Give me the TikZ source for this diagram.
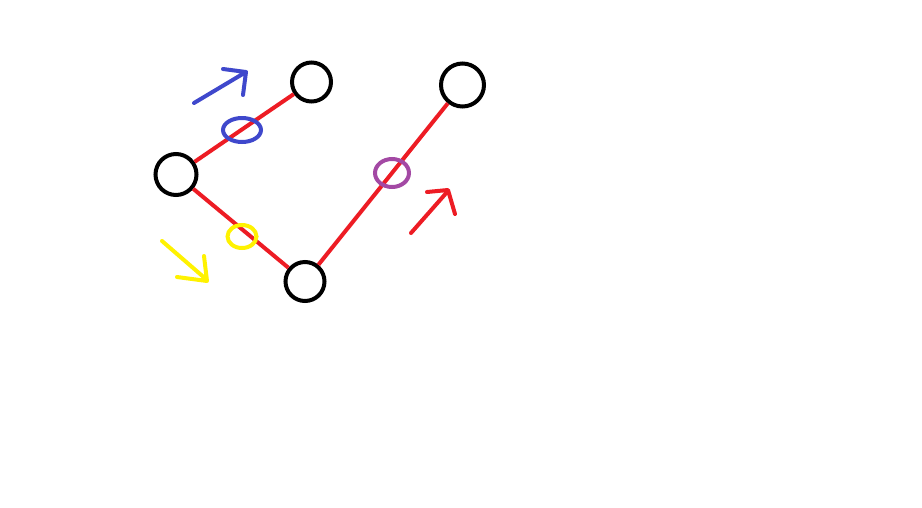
\documentclass[tikz,border=0pt]{standalone}
\usetikzlibrary{shapes.geometric}
\definecolor{pred}{HTML}{ED1C24}
\definecolor{pblue}{HTML}{3F48CC}
\definecolor{pyellow}{HTML}{FFF200}
\definecolor{ppurple}{HTML}{A349A4}
\tikzset{
  joint/.style={circle,draw=black,line width=4*0.02cm,inner sep=0pt,minimum size=0.78cm},
  link/.style={pred,line width=4*0.02cm},
  ring/.style={ellipse,line width=4*0.02cm,inner sep=0pt},
  stroke/.style={line width=4*0.02cm,line cap=round,line join=round}
}
\begin{document}
\begin{tikzpicture}[x=0.02cm,y=-0.02cm]
\useasboundingbox (0,0) rectangle (922,507);
\node[joint,minimum size=0.82cm] (j1) at (176,174.5){};
\node[joint] (j2) at (311.5,82){};
\node[joint] (j3) at (305,281.5){};
\node[joint,minimum size=0.86cm] (j4) at (462.5,85){};
\draw[link] (j1)--(j2);
\draw[link] (j1)--(j3);
\draw[link] (j3)--(j4);
\node[ring,draw=pblue,minimum width=0.76cm,minimum height=0.48cm] (r1) at (242,130){};
\node[ring,draw=pyellow,minimum width=0.58cm,minimum height=0.46cm] (r2) at (242,236.5){};
\node[ring,draw=ppurple,minimum width=0.68cm,minimum height=0.56cm] (r3) at (392,173){};
\draw[stroke,pblue] (194,103)--(246,72) (223,69)--(246,72)--(243,95);
\draw[stroke,pyellow] (162,241)--(207,280) (177,277)--(207,281)--(204,256);
\draw[stroke,pred] (411,233)--(448,191) (427,192)--(448,190)--(455,214);
\end{tikzpicture}
\end{document}
